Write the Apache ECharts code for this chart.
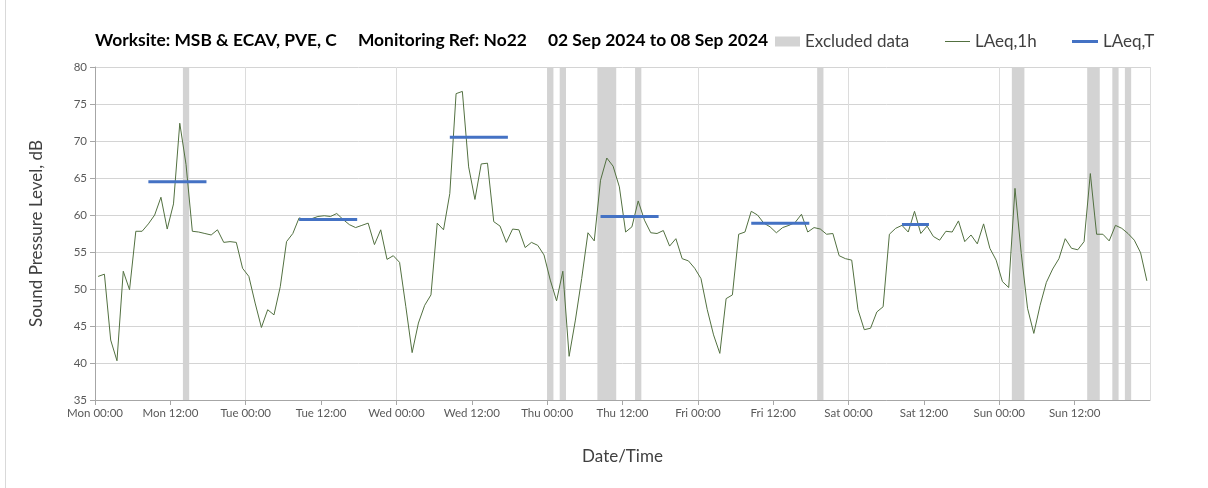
<!DOCTYPE html>
<html>
<head>
<meta charset="utf-8">
<style>
  html, body { margin: 0; padding: 0; background: #fff; }
  #chart { width: 1208px; height: 488px; }
</style>
<script src="https://cdn.jsdelivr.net/npm/echarts@6/dist/echarts.min.js"></script>
</head>
<body>
<div id="chart"></div>
<script>
/* Noise monitoring - hourly LAeq over one week with excluded periods */

const DAYS = ['Mon', 'Tue', 'Wed', 'Thu', 'Fri', 'Sat', 'Sun'];

// LAeq,1h - one value per hour from Mon 00:00 (plotted at mid-hour)
const laeq1h = [
  51.7, 52.0, 43.1, 40.3, 52.4, 49.9, 57.8, 57.8, 58.8, 60.0, 62.4, 58.1,
  61.5, 72.4, 66.8, 57.8, 57.7, 57.5, 57.3, 58.0, 56.3, 56.4, 56.3, 52.8,
  51.7, 48.1, 44.8, 47.2, 46.5, 50.3, 56.4, 57.5, 59.6, 59.4, 59.5, 59.8,
  59.9, 59.8, 60.2, 59.4, 58.7, 58.3, 58.6, 58.9, 56.0, 58.0, 54.0, 54.5,
  53.6, 47.6, 41.4, 45.4, 47.8, 49.2, 58.9, 58.0, 62.9, 76.4, 76.7, 66.5,
  62.1, 66.9, 67.0, 59.1, 58.5, 56.3, 58.1, 58.0, 55.6, 56.3, 55.9, 54.6,
  51.2, 48.4, 52.4, 40.9, 45.8, 51.4, 57.6, 56.5, 64.7, 67.7, 66.6, 63.8,
  57.7, 58.4, 61.9, 59.3, 57.6, 57.5, 57.9, 55.8, 56.8, 54.1, 53.8, 52.8,
  51.4, 47.2, 43.8, 41.3, 48.7, 49.2, 57.4, 57.7, 60.5, 60.0, 58.9, 58.4,
  57.6, 58.3, 58.6, 59.0, 60.1, 57.7, 58.3, 58.1, 57.4, 57.5, 54.5, 54.1,
  53.9, 47.2, 44.5, 44.7, 46.9, 47.6, 57.4, 58.2, 58.6, 57.7, 60.5, 57.5,
  58.5, 57.1, 56.6, 57.8, 57.7, 59.2, 56.4, 57.3, 56.1, 58.8, 55.5, 53.9,
  51.0, 50.2, 63.6, 54.8, 47.4, 44.0, 47.8, 50.9, 52.7, 54.1, 56.8, 55.5,
  55.3, 56.4, 65.6, 57.4, 57.4, 56.5, 58.6, 58.2, 57.5, 56.6, 54.9, 51.1
];

// LAeq,T - daytime period levels (hours from Mon 00:00)
const periodStart = [8.5, 32.5, 56.5, 80.5, 104.5, 128.5];
const periodEnd   = [17.75, 41.75, 65.75, 89.75, 113.75, 132.8];
const periodLevel = [64.5, 59.4, 70.5, 59.8, 58.9, 58.7];

// Excluded data windows (hours from Mon 00:00)
const excludedStart = [14, 72, 74, 80, 86, 115, 146, 158, 162, 164];
const excludedEnd   = [15, 73, 75, 83, 87, 116, 148, 160, 163, 165];

const FONT = 'Lato';

const chart = echarts.init(document.getElementById('chart'), null, { renderer: 'canvas' });

const lineData = laeq1h.map((v, i) => [i + 0.5, v]);

const periodData = [];
periodStart.forEach((s, i) => {
  periodData.push([s, periodLevel[i]], [periodEnd[i], periodLevel[i]], [periodEnd[i], '-']);
});

const bands = excludedStart.map((s, i) => [{ xAxis: s }, { xAxis: excludedEnd[i] }]);

const legendText = { fontFamily: FONT, fontSize: 17, color: '#404040' };

const option = {
  animation: false,
  textStyle: { fontFamily: FONT },
  title: {
    text: 'Worksite: MSB & ECAV, PVE, C     Monitoring Ref: No22     02 Sep 2024 to 08 Sep 2024',
    left: 90,
    top: 27,
    textStyle: { fontFamily: FONT, fontSize: 17.4, fontWeight: 'bold', color: '#000' }
  },
  legend: [
    { data: ['Excluded data'], left: 770, top: 28, padding: 5, icon: 'rect', itemWidth: 25, itemHeight: 10, textStyle: legendText },
    { data: ['LAeq,1h'], left: 940, top: 28, padding: 5, icon: 'rect', itemWidth: 25, itemHeight: 1, textStyle: legendText },
    { data: ['LAeq,T'], left: 1067, top: 28, padding: 5, icon: 'rect', itemWidth: 26, itemHeight: 3, textStyle: legendText }
  ],
  grid: { left: 95, right: 58, top: 67, bottom: 88 },
  xAxis: [
    {
      type: 'value',
      min: 0,
      max: 168,
      interval: 12,
      name: 'Date/Time',
      nameLocation: 'middle',
      nameGap: 48,
      nameTextStyle: { fontFamily: FONT, fontSize: 17, color: '#404040' },
      axisLine: { lineStyle: { color: '#a6a6a6' } },
      axisTick: { show: true, length: 5, lineStyle: { color: '#a6a6a6' } },
      axisLabel: {
        showMaxLabel: false,
        margin: 7,
        fontFamily: FONT,
        fontSize: 11.5,
        color: '#595959',
        formatter: v => DAYS[Math.floor(v / 24)] + ' ' + (v % 24 === 0 ? '00:00' : '12:00')
      },
      splitLine: { show: false }
    },
    {
      type: 'value',
      min: 0,
      max: 168,
      interval: 24,
      position: 'bottom',
      axisLine: { show: false },
      axisTick: { show: false },
      axisLabel: { show: false },
      splitLine: { show: true, lineStyle: { color: '#dcdcdc', width: 1 } }
    }
  ],
  yAxis: {
    type: 'value',
    min: 35,
    max: 80,
    interval: 5,
    name: 'Sound Pressure Level, dB',
    nameLocation: 'middle',
    nameGap: 50,
    nameTextStyle: { fontFamily: FONT, fontSize: 17, color: '#404040' },
    axisLine: { show: true, lineStyle: { color: '#a6a6a6' } },
    axisTick: { show: true, length: 5, lineStyle: { color: '#a6a6a6' } },
    axisLabel: { margin: 8, fontFamily: FONT, fontSize: 11.5, color: '#595959' },
    splitLine: { lineStyle: { color: '#d4d4d4', width: 1 } }
  },
  graphic: [{
    type: 'rect',
    shape: { x: 5.5, y: -5, width: 1260, height: 520 },
    style: { fill: 'none', stroke: '#d9d9d9', lineWidth: 1 },
    silent: true
  }],
  series: [
    {
      name: 'Excluded data',
      type: 'line',
      data: [],
      z: 1,
      itemStyle: { color: '#d3d3d3' },
      markArea: {
        silent: true,
        itemStyle: { color: '#d3d3d3', opacity: 1 },
        data: bands
      }
    },
    {
      name: 'LAeq,1h',
      type: 'line',
      data: lineData,
      z: 3,
      showSymbol: false,
      itemStyle: { color: '#527040' },
      lineStyle: { color: '#527040', width: 1 }
    },
    {
      name: 'LAeq,T',
      type: 'line',
      data: periodData,
      z: 4,
      showSymbol: false,
      connectNulls: false,
      itemStyle: { color: '#4472c4' },
      lineStyle: { color: '#4472c4', width: 3 }
    }
  ]
};

chart.setOption(option);
window.addEventListener('resize', () => chart.resize());
</script>
</body>
</html>
